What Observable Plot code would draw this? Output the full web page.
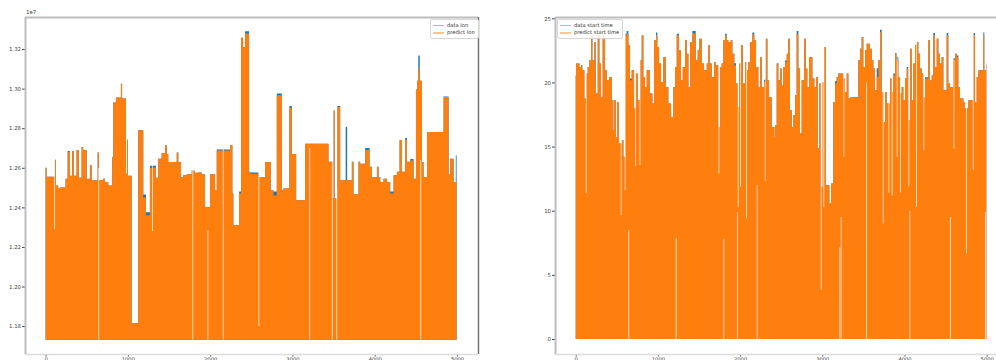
<!DOCTYPE html>
<html><head><meta charset="utf-8">
<script src="https://cdn.jsdelivr.net/npm/d3@7"></script>
<script src="https://cdn.jsdelivr.net/npm/@observablehq/plot@0.6"></script>
<style>
html,body{margin:0;padding:0;background:#fff;}
body{width:996px;height:360px;overflow:hidden;position:relative;font-family:"DejaVu Sans",sans-serif;}
.panel{position:absolute;top:0;width:480px;height:360px;}
.legend{position:absolute;border:1px solid #d6d6d6;border-radius:2px;background:rgba(255,255,255,.85);font-size:5.2px;color:#333;padding:1.5px 3px 1.5px 2px;line-height:7.6px;}
.legend .row{display:flex;align-items:center;white-space:nowrap;}
.legend .sw{display:inline-block;width:11px;height:1.6px;margin-right:3px;}
.offset{position:absolute;font-size:5.4px;color:#333;}
</style></head><body>
<div id="left" class="panel" style="left:0"></div>
<div id="right" class="panel" style="left:530px"></div>
<div class="offset" style="left:26px;top:9px">1e7</div>
<div class="legend" style="left:430px;top:19px">
  <div class="row"><span class="sw" style="background:rgba(31,119,180,.45)"></span>data lon</div>
  <div class="row"><span class="sw" style="background:rgba(255,127,14,.45)"></span>predict lon</div>
</div>
<div class="legend" style="left:557px;top:19px">
  <div class="row"><span class="sw" style="background:rgba(31,119,180,.45)"></span>data start time</div>
  <div class="row"><span class="sw" style="background:rgba(255,127,14,.45)"></span>predict start time</div>
</div>
<script>
// ---------- left panel: lon (values in units of 1e7) ----------
const lonIdx = [0,12,113,125,153,174,243,268,296,324,345,377,405,438,457,499,539,560,633,648,701,721,762,810,823,855,916,930,977,989,1001,1046,1126,1187,1220,1268,1341,1370,1411,1451,1472,1491,1594,1613,1646,1674,1715,1776,1816,1856,1898,1938,1999,2060,2080,2242,2270,2282,2352,2376,2400,2424,2473,2485,2586,2668,2737,2769,2810,2871,2891,2963,2993,3045,3154,3438,3491,3501,3513,3547,3580,3647,3665,3722,3742,3803,3823,3884,3937,3966,4027,4046,4067,4107,4148,4188,4229,4270,4302,4331,4371,4392,4432,4472,4501,4517,4529,4547,4574,4593,4635,4837,4898,4918,4959,4985,4995];
const predictLon = [1.260,1.2555,1.264,1.251,1.2495,1.250,1.2545,1.268,1.256,1.2685,1.256,1.269,1.255,1.2705,1.269,1.2545,1.2613,1.2537,1.2677,1.2537,1.2545,1.2528,1.251,1.2655,1.293,1.2955,1.3025,1.295,1.257,1.2742,1.256,1.1815,1.279,1.245,1.236,1.260,1.255,1.2646,1.2675,1.2714,1.267,1.2629,1.2677,1.2629,1.2554,1.2562,1.2567,1.2585,1.2575,1.2576,1.2567,1.2402,1.2567,1.2486,1.2688,1.2714,1.247,1.231,1.247,1.3257,1.321,1.3278,1.258,1.257,1.2554,1.2629,1.2487,1.246,1.2966,1.2487,1.2495,1.2904,1.267,1.2436,1.2722,1.263,1.2445,1.289,1.2445,1.2907,1.2537,1.2537,1.2537,1.263,1.2466,1.263,1.262,1.269,1.2605,1.2554,1.2605,1.2554,1.2528,1.2545,1.2528,1.247,1.2562,1.258,1.274,1.258,1.274,1.263,1.2637,1.2545,1.2995,1.304,1.310,1.304,1.2629,1.2554,1.2781,1.2958,1.2567,1.2646,1.2528,1.2528,1.2528];
const dataLon    = [1.260,1.2555,1.264,1.251,1.2495,1.250,1.2545,1.2685,1.256,1.2685,1.256,1.269,1.255,1.2705,1.269,1.2545,1.2613,1.2537,1.2677,1.2537,1.2545,1.2528,1.251,1.2655,1.293,1.2955,1.3025,1.295,1.257,1.2742,1.256,1.1815,1.279,1.2465,1.2375,1.261,1.255,1.2646,1.2675,1.2714,1.267,1.2629,1.2677,1.2629,1.2554,1.2562,1.2567,1.2585,1.2575,1.2576,1.2567,1.2402,1.2567,1.2486,1.2693,1.2714,1.247,1.231,1.248,1.3257,1.321,1.329,1.258,1.2576,1.2554,1.2629,1.2487,1.248,1.2976,1.2487,1.2495,1.2912,1.267,1.2436,1.2722,1.263,1.2445,1.289,1.2445,1.2912,1.2537,1.2806,1.2537,1.263,1.2466,1.263,1.262,1.270,1.2605,1.2554,1.2605,1.2554,1.2528,1.2545,1.2528,1.248,1.2562,1.258,1.274,1.258,1.275,1.263,1.2645,1.2545,1.2995,1.304,1.3168,1.304,1.2629,1.2554,1.2781,1.296,1.2567,1.2646,1.2528,1.2663,1.2528];
const lonMin = 1.1731;
const lonGapX  = [103,640,1293,1783,1966,2153,2586,3203,3479,3532,4553];
const lonGapLo = [1.229,1.1731,1.228,1.1731,1.1731,1.1731,1.18,1.1731,1.1731,1.1731,1.1731];
const lonGapHi = [1.335,1.26,1.335,1.26,1.2284,1.27,1.256,1.27,1.264,1.25,1.264];
const lonTicks = [1.18,1.20,1.22,1.24,1.26,1.28,1.30,1.32];

// ---------- right panel: start time ----------
const stIdx = [0,4,45,65,81,105,126,146,166,187,203,227,243,268,288,308,328,357,377,406,438,458,470,491,507,527,560,580,600,620,641,661,681,710,730,754,783,803,823,843,864,904,933,953,977,993,1014,1038,1066,1095,1127,1160,1188,1208,1229,1257,1281,1302,1330,1350,1371,1391,1419,1444,1460,1484,1504,1533,1561,1594,1614,1634,1654,1683,1703,1736,1756,1776,1796,1817,1837,1857,1886,1906,1930,1950,1971,1991,2011,2032,2060,2080,2100,2121,2149,2173,2194,2222,2242,2263,2291,2311,2332,2352,2384,2417,2425,2445,2465,2486,2506,2526,2547,2567,2587,2607,2628,2648,2668,2688,2709,2729,2749,2777,2798,2818,2838,2879,2903,2923,2944,2964,2985,3005,3025,3045,3086,3106,3134,3155,3175,3195,3256,3276,3297,3317,3337,3438,3459,3479,3499,3520,3540,3580,3601,3621,3641,3662,3682,3702,3722,3743,3763,3783,3824,3844,3864,3885,3905,3925,3945,3966,3986,4006,4027,4047,4067,4087,4108,4128,4148,4168,4189,4209,4229,4249,4290,4310,4331,4351,4371,4392,4412,4432,4452,4473,4513,4533,4554,4594,4615,4635,4655,4675,4716,4736,4777,4837,4858,4878,4898,4959,4971,4992,4995];
const predictStart = [20.56,21.47,21.21,21.34,20.95,18.74,20.69,21.21,21.73,23.67,21.73,23.15,19.13,23.67,21.47,18.87,23.67,20.95,20.17,20.43,18.61,16.27,18.61,15.75,18.48,15.23,15.49,14.20,23.67,23.80,22.89,20.17,20.95,17.96,20.69,18.61,21.73,23.67,20.43,19.65,20.95,19.13,18.35,23.28,23.67,22.76,21.47,20.04,21.98,19.65,18.35,17.31,19.65,21.21,23.67,22.50,20.17,21.21,23.28,22.24,19.65,23.15,23.85,23.80,21.73,22.50,23.41,21.47,20.95,21.47,22.89,21.47,20.43,21.60,21.34,16.53,21.21,21.47,23.28,23.67,23.28,23.15,23.28,22.24,21.34,19.91,18.09,21.47,22.89,19.91,21.60,20.95,21.60,23.15,23.75,23.28,21.21,19.65,21.98,19.65,20.04,23.41,20.17,18.87,16.53,15.75,16.66,21.47,20.17,21.08,19.78,21.21,21.60,22.24,23.41,17.83,16.53,17.44,19.00,23.80,21.08,16.01,20.17,23.41,21.08,19.65,21.98,20.30,19.65,20.43,14.85,19.91,11.86,20.04,22.76,11.99,10.56,12.12,18.48,19.91,20.43,20.69,20.30,19.26,20.69,18.74,18.87,21.73,22.63,23.54,21.21,22.50,23.02,22.63,21.73,21.08,19.39,20.43,21.73,23.93,19.26,16.92,19.26,18.35,20.30,19.26,20.56,22.24,21.73,20.43,19.13,19.65,18.61,20.30,21.08,17.05,22.63,18.61,21.47,22.89,23.15,22.24,21.08,20.69,18.87,20.30,23.28,20.17,20.56,23.67,21.21,23.41,22.24,21.47,21.98,19.39,23.67,19.91,19.65,21.73,22.24,21.98,19.65,18.74,18.48,17.96,18.61,23.67,18.48,20.43,20.95,23.67,20.95,21.47,21.47];
const dataStart    = [20.56,21.47,21.21,21.34,20.95,18.74,20.69,21.21,21.73,23.67,21.73,23.15,19.13,23.67,21.47,18.87,23.67,20.95,20.17,20.43,18.61,16.27,18.61,15.75,18.48,15.23,15.49,14.20,23.80,24.00,22.89,20.30,20.95,17.96,20.69,18.61,21.73,23.67,20.43,19.65,20.95,19.13,18.35,23.28,23.90,22.76,21.47,20.04,21.98,19.65,18.35,17.31,19.65,21.21,23.80,22.50,20.17,21.21,23.28,22.24,19.65,23.15,24.00,24.00,21.73,22.50,23.41,21.47,20.95,21.47,22.89,21.47,20.43,21.60,21.34,16.53,21.21,21.47,23.28,23.80,23.28,23.15,23.28,22.24,21.50,19.91,18.09,21.47,22.89,19.91,21.60,20.95,21.60,23.15,23.90,23.28,21.21,19.65,21.98,19.65,20.20,23.41,20.17,18.87,16.53,15.75,16.66,21.47,20.17,21.08,19.78,21.21,21.70,22.24,23.41,17.83,16.53,17.44,19.00,24.00,21.08,16.01,20.17,23.41,21.08,19.65,21.98,20.30,19.65,20.43,14.85,19.91,11.86,20.04,22.76,11.99,10.56,12.12,18.48,20.10,20.43,20.69,20.30,19.26,20.69,18.74,18.87,21.73,22.63,23.54,21.21,22.50,23.02,22.63,21.73,21.08,19.39,21.10,21.73,24.10,19.26,16.92,19.26,18.35,20.30,19.26,20.70,22.30,22.00,20.43,19.13,19.65,18.61,20.30,21.20,17.05,22.63,18.61,21.47,22.89,23.15,22.24,21.08,20.69,18.87,20.40,23.28,20.17,20.56,23.85,21.21,23.41,22.24,21.47,21.98,19.39,23.85,19.91,19.65,21.90,22.24,22.10,19.65,18.74,18.48,17.96,18.61,23.85,18.48,20.43,20.95,23.90,20.95,21.47,21.47];
const startMin = 0;
const stGapX  = [122,547,596,640,722,776,1217,1736,1796,1962,1971,1999,2072,2202,2300,2981,3012,3207,3224,3256,3532,3735,3804,3844,3905,3945,4047,4058,4140,4229,4553,4595,4748,4830,4979];
const stGapLo = [11.36,9.66,11.6,0,13.5,13.56,0,12.9,0,0,10.3,11.87,9.4,0,12.3,3.82,10.3,0,0,14.2,0,9.0,11.4,11.2,14.2,11.4,11.9,0,10.3,14.7,0,14.85,6.68,13.2,0];
const stGapHi = [25,25,25,8.5,25,25,7.9,25,7.8,9.9,25,25,25,12,25,25,25,7.15,9.5,25,20,25,25,25,25,25,25,10,25,25,9.5,25,25,25,9.9];
const stTicks = [0,5,10,15,20,25];

const xTicks = [0,1000,2000,3000,4000,5000];

function panel(o) {
  const rows = o.idx.map((x, i) => ({x, d: o.data[i], p: o.pred[i]}));
  const gaps = o.gx.map((x, i) => ({x, lo: o.glo[i], hi: o.ghi[i]}));
  const [x0, x1] = o.xDomain, [y0, y1] = o.yDomain;
  return Plot.plot({
    width: 480, height: 360,
    marginLeft: 25, marginRight: o.mr, marginTop: 17, marginBottom: 6,
    x: {domain: o.xDomain}, y: {domain: o.yDomain},
    style: {fontFamily: "DejaVu Sans", fontSize: "5.4px", color: "#444", background: "transparent", overflow: "visible", maxWidth: "none"},
    marks: [
      Plot.areaY(rows, {x: "x", y1: () => o.base, y2: "d", curve: "step-after", fill: "#1f77b4"}),
      Plot.areaY(rows, {x: "x", y1: () => o.base, y2: "p", curve: "step-after", fill: "#ff7f0e"}),
      Plot.ruleX(gaps, {x: "x", y1: "lo", y2: "hi", stroke: "white", strokeWidth: 0.9, strokeOpacity: 0.75}),
      Plot.axisY({ticks: o.yTicks, tickFormat: o.yFmt, tickSize: 3, tickPadding: 1.5, fontSize: 5.4, label: null}),
      Plot.axisX({ticks: xTicks, tickFormat: d => String(d), tickSize: 2.5, tickPadding: 0.5, fontSize: 5.2, label: null}),
      Plot.ruleY([y0], {stroke: "#dcdcdc", strokeWidth: 1.5}),
      Plot.ruleY([y1], {stroke: "#bdbdbd", strokeWidth: 2}),
      Plot.ruleX([x0], {stroke: "#bdbdbd", strokeWidth: 2}),
      Plot.ruleX([x1], {stroke: "#6e6e6e", strokeWidth: 1.4})
    ]
  });
}

document.getElementById("left").append(panel({
  idx: lonIdx, data: dataLon, pred: predictLon, base: lonMin,
  gx: lonGapX, glo: lonGapLo, ghi: lonGapHi,
  xDomain: [-250, 5255], yDomain: [1.1659, 1.3362],
  yTicks: lonTicks, yFmt: d => d.toFixed(2), mr: 2
}));
document.getElementById("right").append(panel({
  idx: stIdx, data: dataStart, pred: predictStart, base: startMin,
  gx: stGapX, glo: stGapLo, ghi: stGapHi,
  xDomain: [-252, 5247], yDomain: [-1.17, 25.1],
  yTicks: stTicks, yFmt: d => String(d), mr: 3
}));
</script>
</body></html>
